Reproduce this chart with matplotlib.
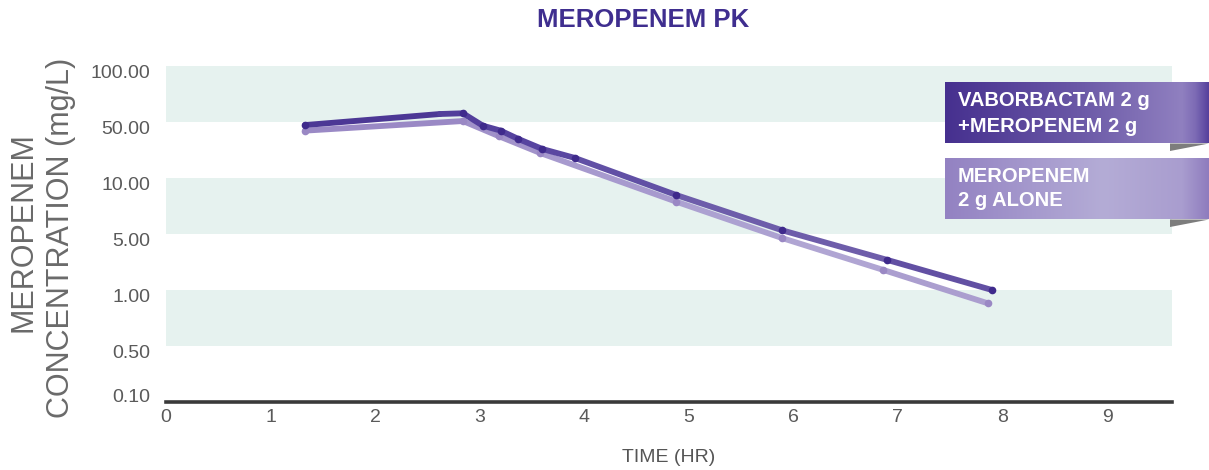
import numpy as np
import matplotlib
matplotlib.use('Agg')
import matplotlib.pyplot as plt
import matplotlib.transforms as mtransforms
from matplotlib.colors import LinearSegmentedColormap
from matplotlib.collections import LineCollection
from matplotlib.patches import Polygon

plt.rcParams['font.family'] = ['Liberation Sans', 'DejaVu Sans']

# y axis levels (equally spaced on the chart)
level_values = [0.1, 0.5, 1, 5, 10, 50, 100]
level_labels = ['0.10', '0.50', '1.00', '5.00', '10.00', '50.00', '100.00']
x_ticks = [0, 1, 2, 3, 4, 5, 6, 7, 8, 9]

# vaborbactam 2 g + meropenem 2 g
combo_time = [1.33, 2.62, 2.84, 3.03, 3.20, 3.37, 3.60, 3.91, 4.88, 5.89, 6.90, 7.90]
combo_conc = [45.8, 55.2, 55.7, 45.0, 39.0, 30.7, 23.0, 17.8, 8.10, 5.24, 2.37, 1.00]

# meropenem 2 g alone
mono_time = [1.33, 2.84, 3.18, 3.58, 4.88, 5.89, 6.86, 7.86]
mono_conc = [39.0, 50.6, 33.4, 20.5, 7.46, 4.46, 1.78, 0.848]

W, H = 1209, 470
log_lv = np.log10(level_values)
idx = np.arange(len(level_values))


def fwd(v):
    v = np.clip(np.asarray(v, dtype=float), 1e-9, None)
    return np.interp(np.log10(v), log_lv, idx)


def inv(k):
    return 10 ** np.interp(np.asarray(k, dtype=float), idx, log_lv)


def fig_box(x0, y0, x1, y1):
    # pixel box (top-left origin) -> figure fraction rect
    return [x0 / W, 1 - y1 / H, (x1 - x0) / W, (y1 - y0) / H]


def gradient_line(ax, xs, ys, cmap, lw, z):
    pts = np.column_stack([xs, ys])
    segs = np.stack([pts[:-1], pts[1:]], axis=1)
    mids = (np.asarray(xs[:-1]) + np.asarray(xs[1:])) / 2
    cols = cmap(np.clip((mids - 1) / 7.2, 0, 1))
    lc = LineCollection(segs, colors=cols, linewidths=lw, capstyle='round',
                        joinstyle='round', zorder=z)
    ax.add_collection(lc)


fig = plt.figure(figsize=(W / 100, H / 100), dpi=100)
ax = fig.add_axes(fig_box(166, 66, 1172, 402))

ax.set_yscale('function', functions=(fwd, inv))
ax.set_ylim(0.1, 100)
ax.set_xlim(0, 1006 / 104.56)

# shaded bands
for lo, hi in [(50, 100), (5, 10), (0.5, 1)]:
    ax.axhspan(lo, hi, color='#E6F2EF', lw=0, zorder=0)

# lines
dark_cmap = LinearSegmentedColormap.from_list(
    'dk', [(0, '#46308F'), (0.35, '#5744A0'), (0.65, '#7161AC'), (0.85, '#6A59A8'), (1, '#4C3894')])
light_cmap = LinearSegmentedColormap.from_list(
    'lt', [(0, '#9481C1'), (0.5, '#A99DCF'), (0.8, '#B2A7D4'), (1, '#A193C9')])

gradient_line(ax, mono_time, mono_conc, light_cmap, 4.2, 3)
ax.plot(mono_time, mono_conc, linestyle='none', marker='o', markersize=5.5,
        markerfacecolor='#9A88C4', markeredgewidth=0, zorder=3.5)
gradient_line(ax, combo_time, combo_conc, dark_cmap, 4.2, 4)
ax.plot(combo_time, combo_conc, linestyle='none', marker='o', markersize=5.5,
        markerfacecolor='#3F2A8C', markeredgewidth=0,
        markevery=[0, 2, 3, 4, 5, 6, 7, 8, 9, 10, 11], zorder=4.5)

# axes styling
for side in ['top', 'right', 'left']:
    ax.spines[side].set_visible(False)
ax.spines['bottom'].set_linewidth(2.6)
ax.spines['bottom'].set_color('#3a3a3a')

ax.set_yticks(level_values)
ax.set_yticklabels(level_labels)
ax.yaxis.set_minor_locator(matplotlib.ticker.NullLocator())
ax.set_xticks(x_ticks)
ax.set_xticklabels([str(t) for t in x_ticks])
ax.tick_params(axis='y', length=0, pad=11.5, labelsize=14, labelcolor='#5a5a5a')
ax.tick_params(axis='x', length=0, pad=5, labelsize=14, labelcolor='#5a5a5a')
for i, lab in enumerate(ax.get_yticklabels()):
    dy = 7 if i == 0 else -5
    lab.set_transform(lab.get_transform() +
                      mtransforms.ScaledTranslation(0, dy / 100, fig.dpi_scale_trans))

# titles
fig.text(643.5 / W, 1 - 20 / H, 'MEROPENEM PK', ha='center', va='center',
         fontsize=18.5, fontweight='bold', color='#3F2E8F')
fig.text(669 / W, 1 - 458 / H, 'TIME (HR)', ha='center', va='center',
         fontsize=14, color='#555555')
fig.text(24 / W, 1 - 232 / H, 'MEROPENEM', rotation=90, ha='center', va='center',
         fontsize=22, color='#6a6a6a')
fig.text(61 / W, 1 - 238 / H, 'CONCENTRATION (mg/L)', rotation=90, ha='center', va='center',
         fontsize=22, color='#6a6a6a')

# legend boxes with gradient fill
grad = np.linspace(0, 1, 256).reshape(1, -1)
cmap1 = LinearSegmentedColormap.from_list(
    'c1', [(0, '#46308F'), (0.5, '#6A58A6'), (0.9, '#9080C0'), (0.95, '#7D6BB5'), (1, '#56419D')])
cmap2 = LinearSegmentedColormap.from_list(
    'c2', [(0, '#9382C2'), (0.6, '#B4ACD6'), (0.9, '#A99DCF'), (1, '#8E7CBE')])

for (y0, y1, cm, lines, centers) in [
        (82, 143.5, cmap1, ['VABORBACTAM 2 g', '+MEROPENEM 2 g'], [101, 127]),
        (157.5, 219.5, cmap2, ['MEROPENEM', '2 g ALONE'], [177, 201])]:
    bax = fig.add_axes(fig_box(945, y0, 1209, y1))
    bax.imshow(grad, aspect='auto', cmap=cm, extent=(0, 1, 0, 1))
    bax.set_axis_off()
    fig.patches.append(Polygon([(1170 / W, 1 - y1 / H), (1170 / W, 1 - (y1 + 7.5) / H),
                                (1209 / W, 1 - y1 / H)], closed=True,
                               transform=fig.transFigure, facecolor='#7d7d7d',
                               edgecolor='none', figure=fig))
    for txt, yc in zip(lines, centers):
        fig.text(958 / W, 1 - yc / H, txt, ha='left', va='center', fontsize=14.5,
                 fontweight='bold', color='white')

fig.savefig('out.png', dpi=100)
